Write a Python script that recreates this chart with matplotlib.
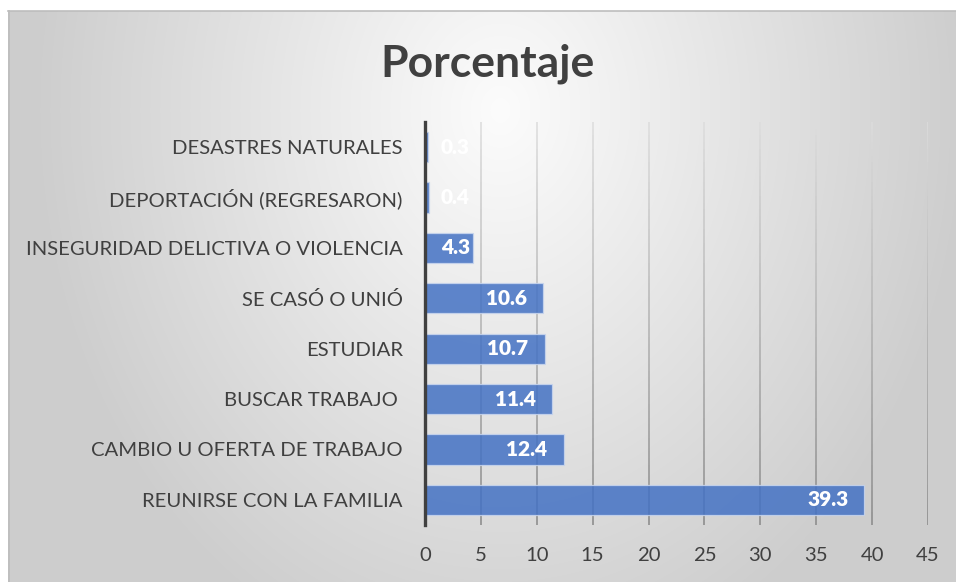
import numpy as np
import matplotlib
matplotlib.use("Agg")
import matplotlib.pyplot as plt
from matplotlib.collections import LineCollection
from matplotlib.transforms import offset_copy
from matplotlib.colors import to_rgb

plt.rcParams['font.family'] = ['Lato', 'DejaVu Sans']

# data, bottom to top as drawn
categories = [
    "REUNIRSE CON LA FAMILIA",
    "CAMBIO U OFERTA DE TRABAJO",
    "BUSCAR TRABAJO ",
    "ESTUDIAR",
    "SE CASÓ O UNIÓ",
    "INSEGURIDAD DELICTIVA O VIOLENCIA",
    "DEPORTACIÓN (REGRESARON)",
    "DESASTRES NATURALES",
]
values = [39.3, 12.4, 11.4, 10.7, 10.6, 4.3, 0.4, 0.3]
xticks = [0, 5, 10, 15, 20, 25, 30, 35, 40, 45]
title = "Porcentaje"

W, H = 956, 582
fig = plt.figure(figsize=(W / 100, H / 100), dpi=100)
fig.patch.set_facecolor('white')

# background: soft radial grey gradient over the chart area
bg = fig.add_axes([8 / W, 0, 1 - 8 / W, 1 - 11 / H], zorder=-10)
gx, gy = np.meshgrid(np.arange(8, W), np.arange(11, H))
d = np.sqrt(((gx - 500) / 500.0) ** 2 + ((gy - 110) / 620.0) ** 2)
v = np.clip(252 - 50 * d, 205, 252) / 255.0
bg.imshow(np.dstack([v, v, v]), aspect='auto', extent=(0, 1, 0, 1), interpolation='bilinear')
bg.set_axis_off()
fig.add_artist(plt.Line2D([8 / W, 1], [1 - 11 / H, 1 - 11 / H], transform=fig.transFigure,
                          color='#bdbdbd', lw=1.2))
fig.add_artist(plt.Line2D([8.5 / W, 8.5 / W], [0, 1 - 11 / H], transform=fig.transFigure,
                          color='#bdbdbd', lw=1.2))

ax = fig.add_axes([425 / W, 1 - 525 / H, (928 - 425) / W, (525 - 122) / H])
ax.set_facecolor('none')
ypos = np.arange(len(categories))
ax.set_xlim(0, 45)
ax.set_ylim(-0.5, len(categories) - 0.5)

# vertical gridlines, lighter at top and darker at bottom
top_c = np.array(to_rgb('#dcdcdc'))
bot_c = np.array(to_rgb('#888888'))
n = 60
ys = np.linspace(-0.5, len(categories) - 0.5, n + 1)
for t in xticks[1:]:
    segs = [[(t, ys[k]), (t, ys[k + 1])] for k in range(n)]
    frac = np.linspace(0, 1, n)[:, None]
    cols = bot_c * (1 - frac) + top_c * frac
    ax.add_collection(LineCollection(segs, colors=cols, linewidths=1.1, zorder=1))

ax.barh(ypos, values, height=0.6, color='#4472C4', alpha=0.85,
        edgecolor='#c9d6ee', linewidth=0.9, zorder=2)

for s in ['top', 'right', 'bottom']:
    ax.spines[s].set_visible(False)
ax.spines['left'].set_color('#404040')
ax.spines['left'].set_linewidth(2.4)
ax.spines['left'].set_zorder(4)

ax.set_yticks(ypos)
ax.set_yticklabels(categories)
ax.set_xticks(xticks)
ax.tick_params(axis='both', length=0, labelsize=14.6, labelcolor='#404040')
ax.tick_params(axis='y', pad=16)
ax.tick_params(axis='x', pad=16)

fig.text(488 / W, 1 - 77 / H, title, ha='center', va='baseline', fontsize=32,
         fontweight='bold', color='#404040')

# data labels inside end of each bar
fig.canvas.draw()
renderer = fig.canvas.get_renderer()
x0_px = ax.transData.transform((0, 0))[0]
for y, val in zip(ypos, values):
    txt = ax.text(val, y, f"{val}", ha='right', va='center', fontsize=15, fontweight='heavy',
                  color='white', zorder=5,
                  transform=offset_copy(ax.transData, fig=fig, x=-16, y=0, units='dots'))
    bb = txt.get_window_extent(renderer)
    if bb.x0 < x0_px + 16:
        txt.set_ha('left')
        txt.set_x(0)
        txt.set_transform(offset_copy(ax.transData, fig=fig, x=16, y=0, units='dots'))

fig.savefig('out.png', dpi=100)
